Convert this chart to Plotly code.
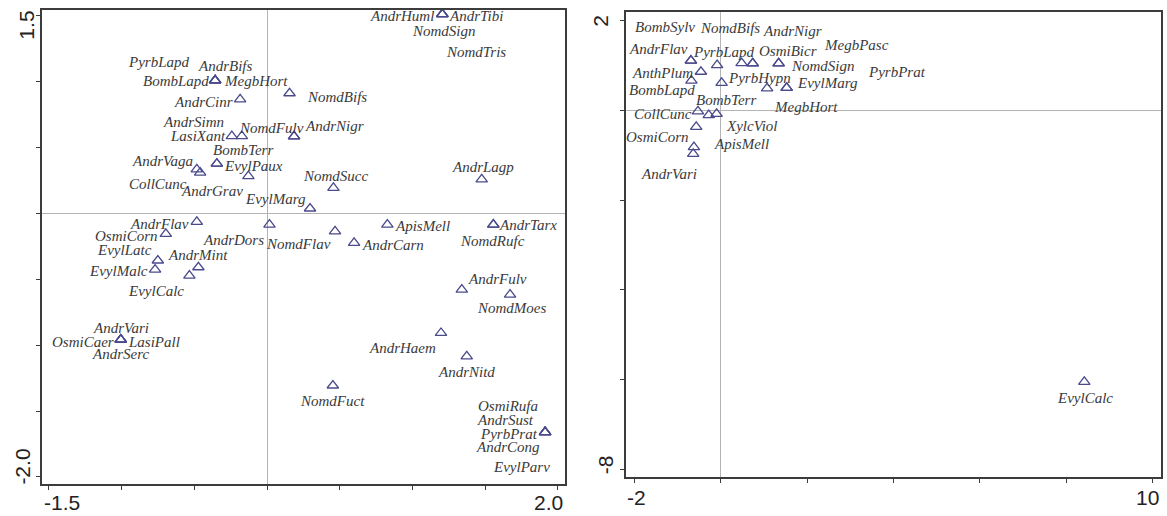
import plotly.graph_objects as go

# ---------------- data: left panel ----------------
left_species = ["PyrbLapd", "AndrBifs", "BombLapd", "MegbHort", "NomdBifs", "AndrCinr",
                "AndrSimn", "LasiXant", "NomdFulv", "AndrNigr", "BombTerr", "EvylPaux",
                "AndrVaga", "CollCunc", "AndrGrav", "EvylMarg", "NomdSucc", "AndrLagp",
                "AndrHuml", "AndrTibi", "NomdSign", "NomdTris", "AndrFlav", "OsmiCorn",
                "AndrDors", "NomdFlav", "AndrCarn", "ApisMell", "AndrTarx", "NomdRufc",
                "AndrFulv", "NomdMoes", "AndrHaem", "AndrNitd", "NomdFuct", "OsmiRufa",
                "AndrSust", "PyrbPrat", "AndrCong", "EvylParv", "EvylLatc", "EvylMalc",
                "AndrMint", "EvylCalc", "AndrVari", "OsmiCaer", "LasiPall", "AndrSerc"]
left_x = [-0.357, -0.357, -0.357, -0.357, 0.155, -0.185,
          -0.173, -0.242, 0.186, 0.186, -0.345, -0.345,
          -0.483, -0.460, -0.128, 0.296, 0.457, 1.477,
          1.206, 1.206, 1.206, 1.206, -0.483, -0.696,
          0.017, 0.468, 0.599, 0.828, 1.557, 1.557,
          1.340, 1.672, 1.197, 1.374, 0.453, 1.913,
          1.913, 1.913, 1.913, 1.913, -0.751, -0.770,
          -0.472, -0.534, -1.006, -1.006, -1.006, -1.006]
left_y = [1.011, 1.011, 1.011, 1.011, 0.913, 0.867,
          0.588, 0.588, 0.586, 0.586, 0.378, 0.378,
          0.335, 0.310, 0.284, 0.038, 0.195, 0.259,
          1.513, 1.513, 1.513, 1.513, -0.063, -0.154,
          -0.084, -0.135, -0.223, -0.084, -0.084, -0.084,
          -0.578, -0.616, -0.907, -1.085, -1.306, -1.660,
          -1.660, -1.660, -1.660, -1.660, -0.357, -0.426,
          -0.408, -0.471, -0.958, -0.958, -0.958, -0.958]

# ---------------- data: right panel ----------------
right_species = ["BombSylv", "AndrFlav", "AnthPlum", "BombLapd", "PyrbLapd", "NomdBifs",
                 "OsmiBicr", "AndrNigr", "NomdSign", "MegbPasc", "PyrbHypn", "MegbHort",
                 "EvylMarg", "PyrbPrat", "CollCunc", "BombTerr", "XylcViol", "ApisMell",
                 "OsmiCorn", "AndrVari", "EvylCalc"]
right_x = [-0.688, -0.688, -0.456, -0.676, -0.081, 0.486,
           0.743, 0.743, 1.343, 1.343, 0.023, 1.076,
           1.528, 1.528, -0.525, -0.275, -0.093, -0.565,
           -0.618, -0.634, 8.417]
right_y = [1.110, 1.110, 0.861, 0.664, 1.010, 1.055,
           1.048, 1.048, 1.048, 1.048, 0.613, 0.491,
           0.502, 0.502, -0.020, -0.105, -0.078, -0.366,
           -0.818, -0.968, -6.051]

# axis tick positions / labels
left_xticks = [-1.5, -1.0, -0.5, 0.0, 0.5, 1.0, 1.5, 2.0]
left_yticks = [-2.0, -1.5, -1.0, -0.5, 0.0, 0.5, 1.0, 1.5]
right_xticks = [-2, 0, 2, 4, 6, 8, 10]
right_yticks = [-8, -6, -4, -2, 0, 2]

# ---------------- label offsets (pixels, dx right, dy down) ----------------
left_offsets = {
    "PyrbLapd": (-56, -18), "AndrBifs": (10, -14), "BombLapd": (-39, 1), "MegbHort": (41, 1),
    "NomdBifs": (47, 4), "AndrCinr": (-37, 3), "AndrSimn": (-48, -14), "LasiXant": (-34, 0),
    "NomdFulv": (-23, -8), "AndrNigr": (40, -10), "BombTerr": (26, -14), "EvylPaux": (37, 2),
    "AndrVaga": (-34, -8), "CollCunc": (-42, 11), "AndrGrav": (-36, 15), "EvylMarg": (-35, -9),
    "NomdSucc": (2, -12), "AndrLagp": (1, -12), "AndrHuml": (-40, 2), "AndrTibi": (34, 2),
    "NomdSign": (2, 17), "NomdTris": (34, 38), "AndrFlav": (-37, 2), "OsmiCorn": (-39, 2),
    "AndrDors": (-36, 15), "NomdFlav": (-37, 13), "AndrCarn": (39, 2), "ApisMell": (35, 1),
    "AndrTarx": (35, 0), "NomdRufc": (-1, 16), "AndrFulv": (36, -11), "NomdMoes": (1, 13),
    "AndrHaem": (-39, 15), "AndrNitd": (0, 16), "NomdFuct": (0, 15), "OsmiRufa": (-37, -26),
    "AndrSust": (-40, -12), "PyrbPrat": (-36, 2), "AndrCong": (-37, 15), "EvylParv": (-24, 35),
    "EvylLatc": (-33, -11), "EvylMalc": (-37, 1), "AndrMint": (0, -12), "EvylCalc": (-33, 15),
    "AndrVari": (0, -12), "OsmiCaer": (-38, 2), "LasiPall": (33, 2), "AndrSerc": (0, 14),
}
right_offsets = {
    "BombSylv": (-26, -34), "AndrFlav": (-32, -12), "AnthPlum": (-38, 1), "BombLapd": (-29, 9),
    "PyrbLapd": (7, -13), "NomdBifs": (-12, -35), "OsmiBicr": (35, -12), "AndrNigr": (40, -32),
    "NomdSign": (44, 3), "MegbPasc": (78, -18), "PyrbHypn": (38, -5), "MegbHort": (39, 19),
    "EvylMarg": (41, -5), "PyrbPrat": (110, -16), "CollCunc": (-35, 3), "BombTerr": (17, -15),
    "XylcViol": (35, 12), "ApisMell": (45, 17), "OsmiCorn": (-36, -10), "AndrVari": (-24, 20),
    "EvylCalc": (1, 16),
}

MARKER_COLOR = "#4a4a8c"
LABEL_FONT = dict(family="Liberation Serif, Times New Roman, serif", size=15, color="#3a3a3a")
TICK_FONT = dict(family="Liberation Sans, Arial, sans-serif", size=21, color="#222222")
AXIS_COLOR = "#3c3c3c"
ZERO_COLOR = "#b4b4b4"

fig = go.Figure()

fig.add_trace(go.Scatter(
    x=left_x, y=left_y, mode="markers", xaxis="x", yaxis="y",
    marker=dict(symbol="triangle-up-open", size=10, color=MARKER_COLOR,
                line=dict(width=1.3, color=MARKER_COLOR)),
    hoverinfo="skip", showlegend=False))
fig.add_trace(go.Scatter(
    x=right_x, y=right_y, mode="markers", xaxis="x2", yaxis="y2",
    marker=dict(symbol="triangle-up-open", size=10, color=MARKER_COLOR,
                line=dict(width=1.3, color=MARKER_COLOR)),
    hoverinfo="skip", showlegend=False))

annotations = []
for name, xv, yv in zip(left_species, left_x, left_y):
    dx, dy = left_offsets[name]
    annotations.append(dict(x=xv, y=yv, xref="x", yref="y", text="<i>%s</i>" % name,
                            showarrow=False, xshift=dx, yshift=-dy, font=LABEL_FONT,
                            xanchor="center", yanchor="middle", borderpad=0))
for name, xv, yv in zip(right_species, right_x, right_y):
    dx, dy = right_offsets[name]
    annotations.append(dict(x=xv, y=yv, xref="x2", yref="y2", text="<i>%s</i>" % name,
                            showarrow=False, xshift=dx, yshift=-dy, font=LABEL_FONT,
                            xanchor="center", yanchor="middle", borderpad=0))

# end tick labels (only extremes are labelled)
def xlab(val, text, xref, yref, xshift, yshift):
    annotations.append(dict(x=val, y=0, xref=xref, yref=yref, text=text, showarrow=False,
                            xshift=xshift, yshift=yshift, font=TICK_FONT,
                            xanchor="center", yanchor="middle"))

def ylab(val, text, xref, yref, xshift, yshift):
    annotations.append(dict(x=0, y=val, xref=xref, yref=yref, text=text, showarrow=False,
                            xshift=xshift, yshift=yshift, font=TICK_FONT, textangle=-90,
                            xanchor="center", yanchor="middle"))

xlab(left_xticks[0], "-1.5", "x", "y domain", 13, -18)
xlab(left_xticks[-1], "2.0", "x", "y domain", -9, -18)
ylab(left_yticks[-1], "1.5", "x domain", "y", -15, -9)
ylab(left_yticks[0], "-2.0", "x domain", "y", -19, 10)
xlab(right_xticks[0], "-2", "x2", "y2 domain", 2, -21)
xlab(right_xticks[-1], "10", "x2", "y2 domain", -5, -21)
ylab(right_yticks[-1], "2", "x2 domain", "y2", -25, 0)
ylab(right_yticks[0], "-8", "x2 domain", "y2", -21, 4)

W, H = 1167, 516

def axis(rng, ticks, domain, anchor):
    return dict(range=rng, domain=domain, anchor=anchor, tickvals=ticks,
                showticklabels=False, ticks="outside", ticklen=4, tickwidth=1.3,
                tickcolor=AXIS_COLOR, showline=True, linecolor=AXIS_COLOR, linewidth=1.6,
                mirror=True, showgrid=False, zeroline=True, zerolinecolor=ZERO_COLOR,
                zerolinewidth=1, fixedrange=True)

fig.update_layout(
    width=W, height=H, margin=dict(l=0, r=0, t=0, b=0),
    paper_bgcolor="white", plot_bgcolor="white",
    xaxis=axis([-1.55, 2.05], left_xticks, [41.7 / W, 565 / W], "y"),
    yaxis=axis([-2.056, 1.545], left_yticks, [1 - 484.3 / H, 1 - 10 / H], "x"),
    xaxis2=axis([-2.19, 10.185], right_xticks, [626 / W, 1160.7 / W], "y2"),
    yaxis2=axis([-8.165, 2.2], right_yticks, [1 - 476.7 / H, 1 - 11.7 / H], "x2"),
    annotations=annotations,
    showlegend=False,
)

fig.write_html("out.html")
